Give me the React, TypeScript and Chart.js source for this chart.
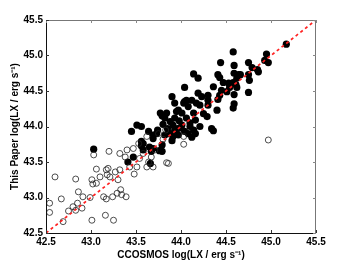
import React, { useEffect, useRef } from "react";
import { Chart, registerables } from "chart.js";

Chart.register(...registerables);

const AXIS_MIN = 42.5;
const AXIS_MAX = 45.5;
const TICK_STEP = 0.5;

const xTitle = "CCOSMOS log(LX / erg s\u207B\u00B9)";
const yTitle = "This Paper log(LX / erg s\u207B\u00B9)";

// Filled circles: [CCOSMOS, This Paper]
const filledX = [43.03,43.41,43.47,43.45,43.56,43.58,43.65,43.66,43.69,43.69,43.73,43.76,43.79,43.79,43.82,43.88,43.91,44.08,44.16,44.36,44.12,44.58,44.95,44.93,44.97,45.17,44.44,44.59,44.75,44.79,44.85,44.86,44.14,44.19,44.41,44.43,44.59,44.64,44.62,44.75,44.76,44.47,44.53,44.04,44.36,44.45,44.58,44.62,44.75,44.43,44.59,44.59,44.58,44.30,44.30,44.41,44.51,44.54,44.12,44.23,44.17,44.04,44.08,44.21,44.30,44.40,43.97,44.01,44.29,44.34,44.14,44.16,43.90,43.93,44.03,44.06,44.19,43.84,43.95,43.82,43.93,43.91,43.88,44.01,44.04,44.14,44.21,43.86,43.77,43.79,43.51,43.56,43.64,43.69,43.56,43.58,43.67,44.66,44.61,43.98,44.10,43.96,44.25,44.06,43.85,43.93,43.97,44.00,43.74,43.80,44.10,43.90];
const filledY = [43.68,43.50,43.57,43.93,43.73,43.76,43.71,43.48,43.69,43.83,43.90,43.66,43.65,43.74,43.88,43.90,43.86,43.90,43.90,43.94,43.85,45.05,45.02,44.93,44.90,45.16,44.90,44.86,44.90,44.83,44.80,44.77,44.74,44.68,44.73,44.69,44.75,44.73,44.68,44.73,44.65,44.62,44.61,44.55,44.56,44.51,44.62,44.55,44.48,44.44,44.45,44.32,44.26,44.44,44.37,44.38,44.49,44.55,44.37,44.42,44.33,44.35,44.28,44.30,44.30,44.23,44.23,44.19,44.14,43.97,44.19,44.09,44.42,44.33,44.33,44.37,44.47,44.19,44.21,44.12,44.12,44.02,44.07,44.02,43.93,43.95,44.00,43.90,44.19,44.15,44.02,44.00,43.93,43.88,43.79,43.67,43.65,44.73,44.59,44.08,44.05,43.97,44.18,44.12,43.97,43.95,43.88,43.98,43.95,44.03,44.00,43.80];

// Open circles
const openX = [42.54,42.54,42.60,42.67,42.69,42.75,42.80,42.83,42.85,42.86,42.83,42.90,42.91,42.99,43.01,43.01,43.02,43.06,43.03,43.10,43.06,43.14,43.16,43.17,43.17,43.18,43.20,43.21,43.19,43.25,43.24,43.27,43.29,43.30,43.32,43.32,43.33,43.34,43.38,43.39,43.40,43.43,43.47,43.48,43.51,43.53,43.58,43.54,43.62,43.64,43.67,43.71,43.69,43.84,43.62,43.75,43.86,44.97,44.03,44.03,43.80,43.83];
const openY = [42.79,42.92,43.29,42.98,42.66,42.81,42.87,42.82,42.92,43.08,43.26,42.85,43.01,43.00,42.68,43.25,43.19,43.20,43.60,43.29,43.40,43.01,42.75,42.98,43.39,43.32,43.65,43.29,43.41,42.68,43.01,43.36,43.06,43.25,43.39,43.62,43.11,43.04,43.57,43.01,43.67,43.43,43.69,43.33,43.43,43.76,43.62,43.55,43.43,43.50,43.57,43.67,43.43,43.49,43.86,43.90,43.48,43.81,43.86,43.75,43.82,43.95];

const lineX = [42.5, 45.5];
const lineY = [42.5, 45.5];

const toPts = (xs: number[], ys: number[]) => xs.map((x, i) => ({ x, y: ys[i] }));

const FONT = { family: "Arial, 'Liberation Sans', sans-serif", size: 10, weight: "bold" as const };

const framePlugin = {
  id: "frame",
  afterDraw(chart: any) {
    const { ctx, chartArea } = chart;
    const { left, right, top, bottom } = chartArea;
    const xs = chart.scales.x;
    const ys = chart.scales.y;
    ctx.save();
    ctx.lineWidth = 1;
    ctx.strokeStyle = "#111";
    ctx.beginPath();
    ctx.moveTo(left + 0.5, top);
    ctx.lineTo(left + 0.5, bottom + 0.5);
    ctx.lineTo(right, bottom + 0.5);
    ctx.stroke();
    ctx.strokeStyle = "#777";
    ctx.beginPath();
    ctx.moveTo(left, top + 0.5);
    ctx.lineTo(right - 0.5, top + 0.5);
    ctx.lineTo(right - 0.5, bottom);
    ctx.stroke();
    const len = 3;
    for (let v = AXIS_MIN; v <= AXIS_MAX + 1e-9; v += TICK_STEP) {
      const px = Math.round(xs.getPixelForValue(v)) + 0.5;
      const py = Math.round(ys.getPixelForValue(v)) + 0.5;
      ctx.strokeStyle = "#333";
      ctx.beginPath();
      ctx.moveTo(px, bottom);
      ctx.lineTo(px, bottom - len);
      ctx.moveTo(left, py);
      ctx.lineTo(left + len, py);
      ctx.stroke();
      ctx.strokeStyle = "#888";
      ctx.beginPath();
      ctx.moveTo(px, top);
      ctx.lineTo(px, top + len);
      ctx.moveTo(right, py);
      ctx.lineTo(right - len, py);
      ctx.stroke();
    }
    ctx.restore();
  },
};

export default function App() {
  const ref = useRef<HTMLCanvasElement | null>(null);
  useEffect(() => {
    if (!ref.current) return;
    const chart = new Chart(ref.current, {
      type: "scatter",
      data: {
        datasets: [
          {
            type: "line",
            data: toPts(lineX, lineY),
            borderColor: "#ff2020",
            borderWidth: 1.7,
            borderDash: [3, 3],
            pointRadius: 0,
            fill: false,
          } as any,
          {
            data: toPts(openX, openY),
            pointRadius: 3,
            pointBackgroundColor: "rgba(255,255,255,0)",
            pointBorderColor: "#222",
            pointBorderWidth: 0.8,
          },
          {
            data: toPts(filledX, filledY),
            pointRadius: 3.6,
            pointBackgroundColor: "#000",
            pointBorderColor: "#000",
            pointBorderWidth: 0,
          },
        ],
      },
      options: {
        animation: false,
        responsive: false,
        maintainAspectRatio: false,
        layout: { padding: { top: 20, right: 34, left: 0, bottom: 0 } },
        plugins: { legend: { display: false }, tooltip: { enabled: false } },
        scales: {
          x: {
            type: "linear",
            min: AXIS_MIN,
            max: AXIS_MAX,
            ticks: { stepSize: TICK_STEP, color: "#000", font: FONT, padding: 3, maxRotation: 0 },
            grid: { display: false, drawTicks: false },
            border: { display: false },
            title: { display: true, text: xTitle, color: "#000", font: FONT, padding: { top: 0, bottom: 2 } },
            afterFit: (s: any) => { s.height = 30; },
          },
          y: {
            type: "linear",
            min: AXIS_MIN,
            max: AXIS_MAX,
            ticks: { stepSize: TICK_STEP, color: "#000", font: FONT, padding: 3 },
            grid: { display: false, drawTicks: false },
            border: { display: false },
            title: { display: true, text: yTitle, color: "#000", font: FONT, padding: { top: 9, bottom: 0 } },
            afterFit: (s: any) => { s.width = 46; },
          },
        },
      },
      plugins: [framePlugin],
    });
    return () => chart.destroy();
  }, []);
  return (
    <div style={{ position: "fixed", left: 0, top: 0, width: 350, height: 263, background: "#fff" }}>
      <canvas ref={ref} width={350} height={263} style={{ width: 350, height: 263 }} />
    </div>
  );
}
